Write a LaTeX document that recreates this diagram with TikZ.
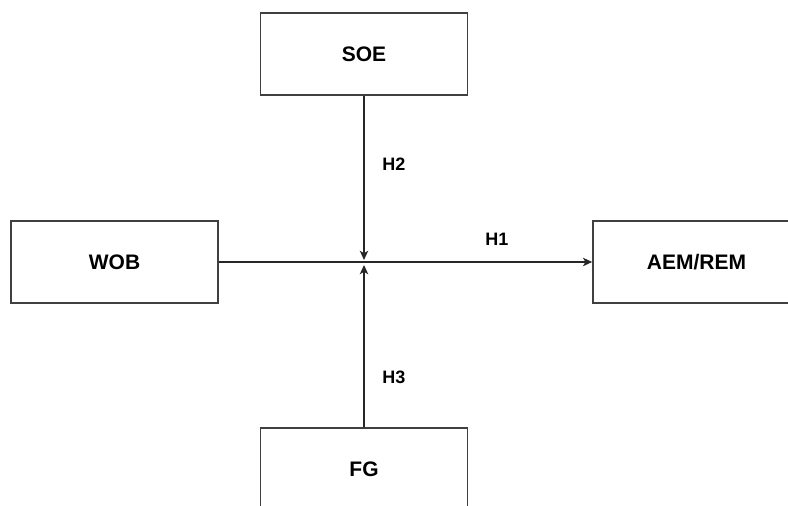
\documentclass[tikz,border=0pt]{standalone}
\usepackage{fontspec}
\setmainfont{Liberation Sans}
\usetikzlibrary{arrows.meta}

\tikzset{
  varbox/.style={draw=black!75, line width=0.8pt, minimum width=103.5pt, minimum height=41pt,
    font=\fontsize{10.5}{12}\selectfont\bfseries},
  hyplabel/.style={font=\fontsize{9}{11}\selectfont\bfseries},
  link/.style={line width=0.75pt, black!85, -{Stealth[length=4.6pt, width=4.2pt, inset=1.2pt]}}
}

\begin{document}
\begin{tikzpicture}[x=0.5pt, y=-0.5pt]
    \useasboundingbox (0,0) rectangle (788,506);
    %boxes
    \node[varbox] (soe) at (364,54) {SOE};
    \node[varbox] (wob) at (114.5,262) {WOB};
    \node[varbox] (aem) at (696.5,262) {AEM/REM};
    \node[varbox] (fg) at (364,469) {FG};
    \coordinate (j) at (364,262);
    %links
    \draw[link] (wob) -- (aem);
    \draw[link, shorten >=1pt] (soe) -- (j);
    \draw[link, shorten >=1.5pt] (fg) -- (j);
    %labels
    \node[hyplabel] (h1) at (497,239) {H1};
    \node[hyplabel] (h2) at (394,164) {H2};
    \node[hyplabel] (h3) at (394,377) {H3};
\end{tikzpicture}
\end{document}
